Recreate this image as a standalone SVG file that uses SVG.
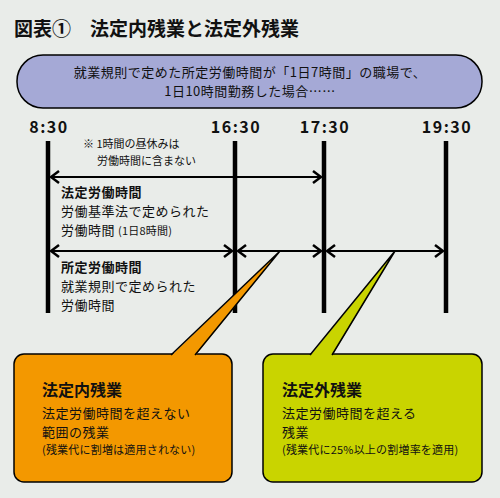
<svg xmlns="http://www.w3.org/2000/svg" width="500" height="498" viewBox="0 0 500 498">
<style>
text{font-family:"Noto Sans CJK JP","Noto Sans",sans-serif;fill:#111;}
.title{font-size:19px;font-weight:bold;}
.pill{font-size:13px;letter-spacing:0.5px;}
.time{font-size:16px;font-weight:bold;letter-spacing:1.5px;}
.note{font-size:11px;}
.h{font-size:13px;font-weight:bold;letter-spacing:0.5px;}
.b{font-size:13px;letter-spacing:0.5px;}
.s{font-size:11px;letter-spacing:0.2px;}
.bh{font-size:16px;font-weight:bold;}
.vl{stroke:#000;stroke-width:4.5;}
.ar{stroke:#000;stroke-width:2;fill:none;}
</style>
<defs>
<marker id="ah" viewBox="0 0 10 14" refX="9" refY="7" markerWidth="10" markerHeight="14" markerUnits="userSpaceOnUse" orient="auto-start-reverse">
<path d="M1,1 L9,7 L1,13" fill="none" stroke="#000" stroke-width="2.5"/>
</marker>
</defs>
<rect x="0" y="0" width="500" height="498" fill="#e9ece9"/>
<text class="title" x="14" y="36">図表①</text>
<text class="title" x="90" y="36">法定内残業と法定外残業</text>
<g id="header">
<rect x="17" y="55" width="465" height="53" rx="26" fill="#a5a9d6" stroke="#000" stroke-width="1.5"/>
<text class="pill" x="250" y="77" text-anchor="middle">就業規則で定めた所定労働時間が「1日7時間」の職場で、</text>
<text class="pill" x="250" y="96" text-anchor="middle">1日10時間勤務した場合……</text>
</g>
<g id="times">
<text class="time" x="49" y="133" text-anchor="middle">8:30</text>
<text class="time" x="236" y="133" text-anchor="middle">16:30</text>
<text class="time" x="325" y="133" text-anchor="middle">17:30</text>
<text class="time" x="447" y="133" text-anchor="middle">19:30</text>
<line class="vl" x1="48" y1="141" x2="48" y2="313"/>
<line class="vl" x1="235" y1="141" x2="235" y2="313"/>
<line class="vl" x1="324" y1="141" x2="324" y2="313"/>
<line class="vl" x1="446" y1="141" x2="446" y2="313"/>
</g>
<g id="connectors">
<line class="ar" x1="51" y1="177" x2="321" y2="177" marker-start="url(#ah)" marker-end="url(#ah)"/>
<line class="ar" x1="51" y1="251" x2="232" y2="251" marker-start="url(#ah)" marker-end="url(#ah)"/>
<line class="ar" x1="238" y1="251" x2="321" y2="251" marker-start="url(#ah)" marker-end="url(#ah)"/>
<line class="ar" x1="327" y1="251" x2="443" y2="251" marker-start="url(#ah)" marker-end="url(#ah)"/>
</g>
<g id="note">
<text class="note" x="83" y="148">※ 1時間の昼休みは</text>
<text class="note" x="97" y="165">労働時間に含まない</text>
</g>
<g id="legal-hours">
<text class="h" x="61" y="197">法定労働時間</text>
<text class="b" x="61" y="216">労働基準法で定められた</text>
<text class="b" x="61" y="235">労働時間<tspan class="s" dx="3">(1日8時間)</tspan></text>
</g>
<g id="scheduled-hours">
<text class="h" x="61" y="272">所定労働時間</text>
<text class="b" x="61" y="291">就業規則で定められた</text>
<text class="b" x="61" y="310">労働時間</text>
</g>
<g id="within-legal">
<rect x="14" y="354" width="218" height="128" rx="10" fill="#f39800" stroke="#000" stroke-width="1.5"/>
<polygon points="171,356 195,356 280,251" fill="#f39800"/>
<polyline points="171,355 280,251 195,355" fill="none" stroke="#000" stroke-width="1.5"/>
<text class="bh" x="42" y="396">法定内残業</text>
<text class="b" x="42" y="418">法定労働時間を超えない</text>
<text class="b" x="42" y="437">範囲の残業</text>
<text class="s" x="42" y="454">(残業代に割増は適用されない)</text>
</g>
<g id="beyond-legal">
<rect x="263" y="354" width="219" height="128" rx="10" fill="#c9d400" stroke="#000" stroke-width="1.5"/>
<polygon points="310,356 332,356 395,251" fill="#c9d400"/>
<polyline points="310,355 395,251 332,355" fill="none" stroke="#000" stroke-width="1.5"/>
<text class="bh" x="282" y="396">法定外残業</text>
<text class="b" x="282" y="418">法定労働時間を超える</text>
<text class="b" x="282" y="437">残業</text>
<text class="s" x="282" y="454">(残業代に25%以上の割増率を適用)</text>
</g>
</svg>
